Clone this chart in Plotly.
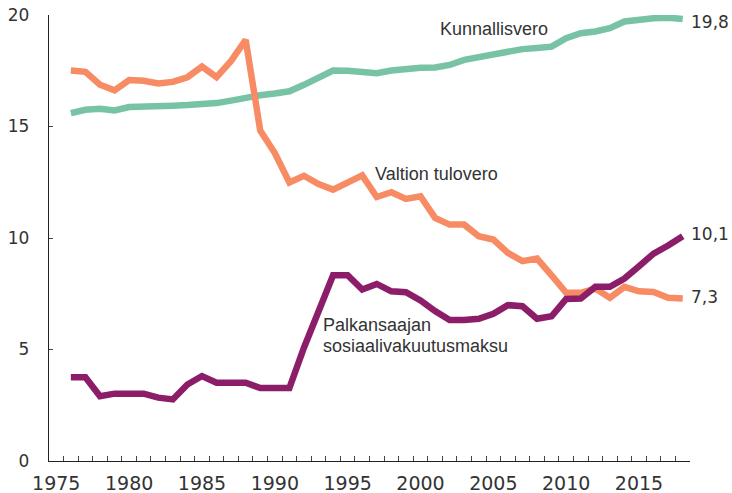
import plotly.graph_objects as go

years = list(range(1976, 2019))

kunnallisvero = [15.60, 15.75, 15.79, 15.72, 15.87, 15.87, 15.90, 15.93, 15.96, 15.97,
                 16.05, 16.16, 16.30, 16.40, 16.48, 16.58, 16.87, 17.17, 17.51, 17.50,
                 17.47, 17.39, 17.51, 17.59, 17.63, 17.65, 17.76, 17.99, 18.11, 18.29,
                 18.39, 18.47, 18.52, 18.58, 18.96, 19.18, 19.26, 19.41, 19.71, 19.81,
                 19.85, 19.88, 19.82]

valtion_tulovero = [17.51, 17.45, 16.87, 16.62, 17.08, 17.05, 16.93, 17.00, 17.21, 17.69,
                    17.21, 17.94, 18.88, 14.82, 13.81, 12.49, 12.79, 12.42, 12.17, 12.49,
                    12.81, 11.84, 12.05, 11.75, 11.87, 10.90, 10.60, 10.60, 10.08, 9.93,
                    9.33, 8.96, 9.08, 8.32, 7.54, 7.54, 7.73, 7.32, 7.81, 7.61,
                    7.58, 7.32, 7.29]

sosiaalivakuutusmaksu = [3.76, 3.76, 2.91, 3.02, 3.02, 3.02, 2.84, 2.76, 3.43, 3.81,
                         3.51, 3.51, 3.51, 3.27, 3.27, 3.27, 5.08, 6.79, 8.33, 8.33,
                         7.69, 7.94, 7.61, 7.57, 7.20, 6.72, 6.32, 6.32, 6.38, 6.60,
                         6.99, 6.94, 6.38, 6.49, 7.27, 7.29, 7.81, 7.81, 8.18, 8.73,
                         9.30, 9.66, 10.08]

x_tick_vals = [1975, 1980, 1985, 1990, 1995, 2000, 2005, 2010, 2015]
x_tick_text = [str(v) for v in x_tick_vals]
y_tick_vals = [0, 5, 10, 15, 20]
year_boundary_ticks = [y + 0.5 for y in range(1975, 2019)]

GREEN = "#78C3A5"
ORANGE = "#F78C64"
PURPLE = "#8C1E69"
TEXT = "#333333"
FONT = "Liberation Sans, Arial, sans-serif"
NUMFONT = "DejaVu Sans, Liberation Sans, sans-serif"
XRANGE = [1974.5, 2018.5]

fig = go.Figure()
for vals, col in [(kunnallisvero, GREEN), (valtion_tulovero, ORANGE), (sosiaalivakuutusmaksu, PURPLE)]:
    fig.add_trace(go.Scatter(x=years, y=vals, mode="lines",
                             line=dict(color=col, width=6.5),
                             hoverinfo="skip", showlegend=False, cliponaxis=False))
# empty trace so the overlay axis carrying the yearly tick marks is drawn
fig.add_trace(go.Scatter(x=[], y=[], xaxis="x2", mode="lines",
                         hoverinfo="skip", showlegend=False))

annos = [
    ("Kunnallisvero", 2001.2, 19.36, FONT, 18),
    ("Valtion tulovero", 1996.74, 12.86, FONT, 18),
    ("Palkansaajan", 1993.15, 6.08, FONT, 18),
    ("sosiaalivakuutusmaksu", 1993.15, 5.15, FONT, 18),
    ("19,8", 2018.45, 19.68, NUMFONT, 17),
    ("10,1", 2018.45, 10.17, NUMFONT, 17),
    ("7,3", 2018.45, 7.34, NUMFONT, 17),
]
for txt, ax_, ay_, fam, sz in annos:
    fig.add_annotation(x=ax_, y=ay_, text=txt, showarrow=False,
                       xanchor="left", yanchor="middle",
                       font=dict(family=fam, size=sz, color=TEXT))

fig.update_layout(
    width=732, height=493,
    margin=dict(l=49, r=42, t=15, b=32, pad=0, autoexpand=False),
    paper_bgcolor="white", plot_bgcolor="white",
    font=dict(family=FONT, color=TEXT),
    showlegend=False,
    hovermode=False,
    xaxis2=dict(overlaying="x", side="bottom", range=XRANGE, automargin=False,
                tickmode="array", tickvals=year_boundary_ticks,
                ticks="inside", ticklen=5, tickcolor="#444444", tickwidth=1,
                showticklabels=False, showgrid=False, zeroline=False, showline=False),
)
fig.layout.xaxis.update(
    range=XRANGE, showgrid=False, zeroline=False, automargin=False,
    showline=True, linecolor="#222222", linewidth=1.3,
    tickmode="array", tickvals=x_tick_vals, ticktext=x_tick_text,
    ticks="", tickfont=dict(family=NUMFONT, size=19, color=TEXT),
    ticklabelstandoff=5, ticklabeloverflow="allow",
)
fig.update_yaxes(
    range=[0, 20], showgrid=False, zeroline=False, automargin=False,
    showline=True, linecolor="#222222", linewidth=1.3,
    tickmode="array", tickvals=y_tick_vals,
    ticks="inside", ticklen=4, tickcolor="#444444",
    tickfont=dict(family=NUMFONT, size=17, color=TEXT),
    ticklabelstandoff=15, ticklabeloverflow="allow",
)

fig.write_html("out.html",
               config={"displayModeBar": False, "staticPlot": True},
               post_script="document.body.style.margin='0';document.body.style.overflow='hidden';")
